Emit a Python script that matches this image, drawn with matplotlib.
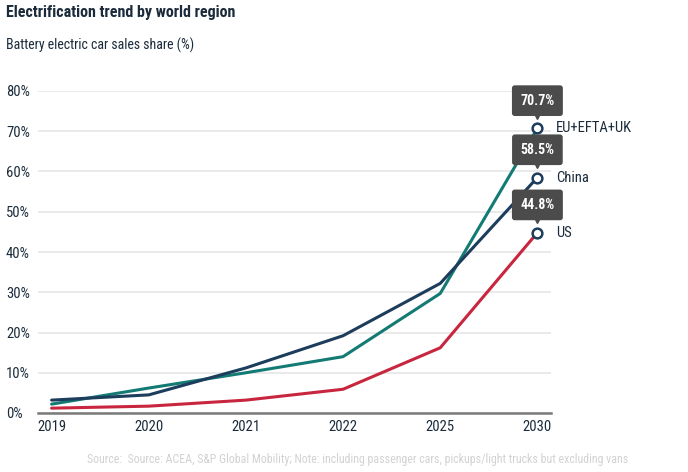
import matplotlib
matplotlib.use("Agg")
import matplotlib.pyplot as plt
import matplotlib.transforms as mtrans
from matplotlib import font_manager

years = ["2019", "2020", "2021", "2022", "2025", "2030"]
regions = ["EU+EFTA+UK", "China", "US"]
eu_share = [2.2, 6.2, 10.0, 14.0, 29.7, 70.7]
china_share = [3.2, 4.5, 11.2, 19.2, 32.2, 58.5]
us_share = [1.2, 1.7, 3.2, 5.9, 16.2, 44.8]
yticks = [0, 10, 20, 30, 40, 50, 60, 70, 80]

colors = {"EU+EFTA+UK": "#137a74", "China": "#1d3d5c", "US": "#c8263f"}
txt = "#1b2b3b"

names = {f.name for f in font_manager.fontManager.ttflist}
fam = "Roboto"
for cand in ["Roboto Condensed", "Liberation Sans Narrow", "DejaVu Sans Condensed"]:
    if cand in names:
        fam = cand
        break
condensed = fam != "Roboto"
plt.rcParams["font.family"] = [fam, "DejaVu Sans"]

fig = plt.figure(figsize=(6.88, 4.72), dpi=100)
ax = fig.add_axes([38 / 688, 1 - 413 / 472, (551 - 38) / 688, (413 - 91) / 472])

x = list(range(len(years)))
series = {"EU+EFTA+UK": eu_share, "China": china_share, "US": us_share}
for name in ["US", "EU+EFTA+UK", "China"]:
    vals = series[name]
    ax.plot(x, vals, color=colors[name], lw=2.2, solid_capstyle="round", zorder=3)
    ax.plot(x[-1], vals[-1], marker="o", ms=7, mfc="white", mec=colors["China"],
            mew=1.8, clip_on=False, zorder=5)
    ax.annotate(name, (x[-1], vals[-1]), xytext=(13.5, 0), textcoords="offset points",
                va="center", ha="left", fontsize=10.5, color=txt, annotation_clip=False)
    ax.annotate(f"{vals[-1]:.1f}%", (x[-1], vals[-1]), xytext=(0, 20), textcoords="offset points",
                va="center", ha="center", fontsize=10, fontweight="bold", color="white",
                bbox=dict(boxstyle="round,pad=0.6,rounding_size=0.2", fc="#4b4b4b", ec="none"),
                annotation_clip=False, zorder=6)
    tri = mtrans.offset_copy(ax.transData, fig=fig, x=0, y=9, units="points")
    ax.plot(x[-1], vals[-1], marker="v", ms=5, color="#4b4b4b", transform=tri,
            clip_on=False, zorder=6)

ax.set_xlim(-0.14, len(years) - 1 + 0.14)
ax.set_ylim(0, 80)
ax.set_xticks(x)
ax.set_xticklabels(years, fontsize=10.5, color=txt)
ax.set_yticks(yticks)
ax.set_yticklabels([f"{v}%" for v in yticks], fontsize=10.5, color=txt, ha="left")
ax.tick_params(axis="y", length=0, pad=23)
ax.tick_params(axis="x", length=0, pad=5)
ax.grid(axis="y", color="#e6e6e6", lw=1.2)
ax.set_axisbelow(True)
for s in ["top", "right", "left"]:
    ax.spines[s].set_visible(False)
ax.spines["bottom"].set_color("#7a7a7a")
ax.spines["bottom"].set_linewidth(1.8)
ax.spines["bottom"].set_zorder(4)

fig.text(6 / 688, 1 - 12 / 472, "Electrification trend by world region",
         fontsize=11.5 if condensed else 11.5, fontweight="bold", color=txt, va="center", ha="left")
fig.text(6 / 688, 1 - 45 / 472, "Battery electric car sales share (%)",
         fontsize=10 if condensed else 9.5, color=txt, va="center", ha="left")
fig.text(358 / 688, 1 - 459 / 472,
         "Source:  Source: ACEA, S&P Global Mobility; Note: including passenger cars, pickups/light trucks but excluding vans",
         fontsize=8.6 if condensed else 7.7, color="#d2d2d2", va="center", ha="center")

fig.savefig("out.png", dpi=100)
